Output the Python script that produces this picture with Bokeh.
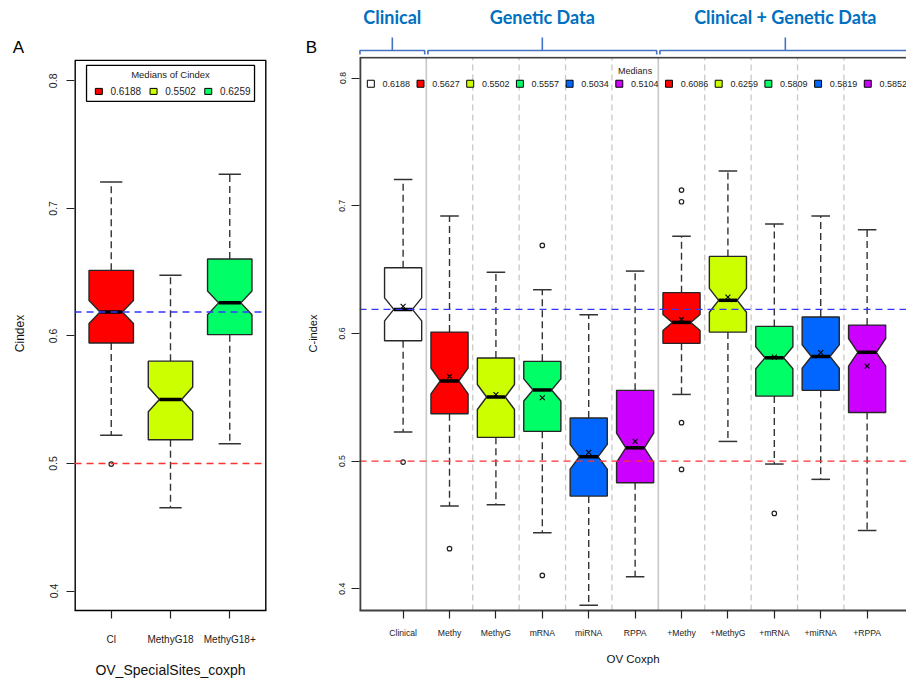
import numpy as np
from bokeh.plotting import figure
from bokeh.layouts import row, column
from bokeh.models import Range1d, FixedTicker, Span
from bokeh.core.properties import value
from bokeh.embed import file_html
from bokeh.resources import INLINE

# ---------------- Panel A: OV_SpecialSites_coxph ----------------
labels_a = ["Cl", "MethyG18", "MethyG18+"]
median_a = [0.6188, 0.5502, 0.6259]
q1_a = [0.5944, 0.5186, 0.6010]
q3_a = [0.6514, 0.5802, 0.6603]
lower_a = [0.5221, 0.4653, 0.5154]
upper_a = [0.7206, 0.6475, 0.7267]
outliers_a = [[0.4995], [], []]
colors_a = ["#FF0000", "#CCFF00", "#00FF66"]

# ---------------- Panel B: OV Coxph ----------------
labels_b = ["Clinical", "Methy", "MethyG", "mRNA", "miRNA", "RPPA",
            "+Methy", "+MethyG", "+mRNA", "+miRNA", "+RPPA"]
median_b = [0.6188, 0.5627, 0.5502, 0.5557, 0.5034, 0.5104,
            0.6086, 0.6259, 0.5809, 0.5819, 0.5852]
q1_b = [0.5943, 0.5371, 0.5186, 0.5233, 0.4726, 0.4831,
        0.5922, 0.6010, 0.5509, 0.5554, 0.5381]
q3_b = [0.6514, 0.6010, 0.5807, 0.5781, 0.5337, 0.5554,
        0.6319, 0.6603, 0.6055, 0.6128, 0.6065]
lower_b = [0.5227, 0.4648, 0.4659, 0.4439, 0.3872, 0.4095,
           0.5522, 0.5154, 0.4977, 0.4857, 0.4457]
upper_b = [0.7206, 0.6919, 0.6478, 0.6342, 0.6146, 0.6488,
           0.6760, 0.7271, 0.6856, 0.6919, 0.6812]
mean_b = [0.6211, 0.5663, 0.5520, 0.5496, 0.5068, 0.5154,
          0.6110, 0.6284, 0.5815, 0.5849, 0.5744]
outliers_b = [[0.4992], [0.4314], [], [0.6689, 0.4105], [], [],
              [0.7122, 0.7031, 0.5301, 0.4935], [], [0.4590], [], []]
colors_b = ["#FFFFFF", "#FF0000", "#CCFF00", "#00FF66", "#0066FF", "#CC00FF",
            "#FF0000", "#CCFF00", "#00FF66", "#0066FF", "#CC00FF"]

# column groups shown above panel B
groups_b = ["Clinical", "Genetic Data", "Clinical + Genetic Data"]
group_edges_b = [0.5, 1.5, 6.5, 11.5]

y_ticks = [0.4, 0.5, 0.6, 0.7, 0.8]
CLINICAL_MEDIAN = 0.6188
RANDOM_LEVEL = 0.5
N_RUNS = 100          # resampling runs behind each box (sets notch depth)

FONT = "Liberation Sans"
EDGE = "#262626"
YLO, YHI = 0.384, 0.816   # 0.4-0.8 with 4% padding

# page geometry (pixels)
STRIP_H = 56              # caption strip above both panels
FRAME_H = 554             # plot frames run from the strip down to the x axes
BOTTOM_H = 70


def draw_boxes(p, med, q1, q3, lo, hi, outs, cols, boxwex, means=None):
    n = len(med)
    xs_c = np.arange(1, n + 1, dtype=float)
    w = boxwex / 2.0
    med, q1, q3 = np.array(med), np.array(q1), np.array(q3)
    nn = 1.58 * (q3 - q1) / np.sqrt(N_RUNS)
    # dashed whiskers
    p.segment(x0=np.r_[xs_c, xs_c], y0=np.r_[q3, q1], x1=np.r_[xs_c, xs_c],
              y1=np.r_[hi, lo], line_color="#333333", line_width=1.4,
              line_dash="7 4")
    # whisker caps
    p.segment(x0=np.r_[xs_c, xs_c] - w / 2, y0=np.r_[hi, lo],
              x1=np.r_[xs_c, xs_c] + w / 2, y1=np.r_[hi, lo],
              line_color="#333333", line_width=1.5)
    # notched boxes
    fx = [-1, 1, 1, 0.5, 1, 1, -1, -1, -0.5, -1]
    bxs, bys = [], []
    for i in range(n):
        bxs.append([xs_c[i] + w * f for f in fx])
        bys.append([q1[i], q1[i], med[i] - nn[i], med[i], med[i] + nn[i],
                    q3[i], q3[i], med[i] + nn[i], med[i], med[i] - nn[i]])
    p.patches(bxs, bys, fill_color=cols, line_color=EDGE, line_width=1.4)
    # medians
    p.segment(x0=xs_c - w / 2, y0=med, x1=xs_c + w / 2, y1=med,
              line_color="black", line_width=3.5)
    # outliers
    ox = [xs_c[i] for i in range(n) for _ in outs[i]]
    oy = [v for i in range(n) for v in outs[i]]
    if ox:
        p.scatter(ox, oy, marker="circle", size=4.5, fill_color=None,
                  line_color="#222222", line_width=1.2)
    if means is not None:
        p.scatter(xs_c, means, marker="x", size=7, line_color="black",
                  line_width=1.1)


def style_axes(p, labels, tick_px, xlab_px, ylab_px):
    p.xaxis.ticker = FixedTicker(ticks=list(range(1, len(labels) + 1)))
    p.xaxis.major_label_overrides = {i + 1: s for i, s in enumerate(labels)}
    p.yaxis.ticker = FixedTicker(ticks=y_ticks)
    p.yaxis.major_label_overrides = {t: f"{t:.1f}" for t in y_ticks}
    p.yaxis.major_label_orientation = "vertical"
    for ax in (p.xaxis, p.yaxis):
        ax.minor_tick_line_color = None
        ax.major_tick_out = 8
        ax.major_tick_in = 0
        ax.major_tick_line_color = "#222222"
        ax.major_tick_line_width = 1.2
        ax.major_label_text_font = FONT
        ax.major_label_text_color = "#222222"
        ax.axis_label_text_font = FONT
        ax.axis_label_text_font_style = "normal"
        ax.axis_label_text_color = "#111111"
    p.yaxis.axis_line_color = None
    p.xaxis.major_label_text_font_size = tick_px
    p.yaxis.major_label_text_font_size = tick_px
    p.xaxis.axis_label_text_font_size = xlab_px
    p.yaxis.axis_label_text_font_size = ylab_px


# ======================= Panel A =======================
PPU_A = 551 / (YHI - YLO)                      # pixels per C-index unit
ya0 = 0.4 - (FRAME_H + STRIP_H - 590.5) / PPU_A
pa = figure(width=300, height=FRAME_H + BOTTOM_H, output_backend="svg",
            toolbar_location=None, title=None,
            x_range=Range1d(0.38, 3.62), y_range=Range1d(ya0, ya0 + FRAME_H / PPU_A),
            min_border_left=74, min_border_right=34, min_border_top=0,
            min_border_bottom=BOTTOM_H)
pa.grid.visible = False
pa.outline_line_color = None
style_axes(pa, labels_a, "10px", "14px", "12px")
pa.yaxis.major_label_text_font_size = "10.5px"
pa.xaxis.axis_line_color = "black"
pa.xaxis.axis_line_width = 1.4
pa.xaxis.axis_label = "OV_SpecialSites_coxph"
pa.yaxis.axis_label = "Cindex"
pa.xaxis.major_label_standoff = 15
pa.yaxis.major_label_standoff = 9
pa.xaxis.axis_label_standoff = 14
pa.yaxis.axis_label_standoff = 20

draw_boxes(pa, median_a, q1_a, q3_a, lower_a, upper_a, outliers_a, colors_a, 0.75)
pa.add_layout(Span(location=CLINICAL_MEDIAN, dimension="width", line_color="#3636ff",
                   line_dash="7 5", line_width=1.4))
pa.add_layout(Span(location=RANDOM_LEVEL, dimension="width", line_color="#ff3030",
                   line_dash="7 5", line_width=1.4))
# plot box (sides sit on the frame edge, so they are drawn twice as wide)
pa.segment(x0=[0.38, 3.62], y0=[ya0, ya0], x1=[0.38, 3.62], y1=[YHI, YHI],
           line_color="black", line_width=2.8)
pa.segment(x0=[0.38], y0=[YHI], x1=[3.62], y1=[YHI], line_color="black", line_width=1.4)

# legend of medians
pa.quad(left=[0.583], right=[3.418], bottom=[0.7839], top=[0.8121],
        fill_color="white", line_color="black", line_width=1.3)
pa.text(x=[2.0], y=[0.8052], text=["Medians of Cindex"], text_align="center",
        text_baseline="middle", text_font=value(FONT), text_font_size="9.5px",
        text_color="#222222")
leg_xa = 0.791 + 0.923 * np.arange(len(median_a))
pa.rect(x=leg_xa, y=[0.7917] * len(median_a), width=0.118, height=0.0047,
        fill_color=colors_a, line_color="black", line_width=1)
pa.text(x=leg_xa + 0.197, y=[0.7917] * len(median_a),
        text=[f"{m:.4f}" for m in median_a], text_align="left",
        text_baseline="middle", text_font=value(FONT), text_font_size="10px",
        text_color="#222222")

# ======================= Panel B =======================
PX_PER_COL = 46.4
LEFT_B = 59
FRAME_W_B = 606 - LEFT_B
PPU_B = 1277.0
xb0 = 0.5 - 0.04 * len(labels_b)
xb1 = len(labels_b) + 0.5 + 0.04 * len(labels_b)
yb0 = 0.4 - (FRAME_H + STRIP_H - 588.3) / PPU_B
yb1 = yb0 + FRAME_H / PPU_B
pb = figure(width=606, height=FRAME_H + BOTTOM_H, output_backend="svg",
            toolbar_location=None, title=None,
            x_range=Range1d(xb0, xb0 + FRAME_W_B / PX_PER_COL),
            y_range=Range1d(yb0, yb1),
            min_border_left=LEFT_B, min_border_right=0, min_border_top=0,
            min_border_bottom=BOTTOM_H)
pb.grid.visible = False
pb.outline_line_color = None
style_axes(pb, labels_b, "8.6px", "11.5px", "11px")
pb.xaxis.axis_line_color = "#404040"
pb.xaxis.axis_line_width = 1.8
pb.xaxis.axis_label = "OV Coxph"
pb.yaxis.axis_label = "C-index"
pb.xaxis.major_label_standoff = 9
pb.yaxis.major_label_standoff = 6
pb.xaxis.axis_label_standoff = 12
pb.yaxis.axis_label_standoff = 18

# column separators: solid between groups, dashed within
seps = np.arange(1.5, len(labels_b), 1.0)
solid = [s for s in seps if s in group_edges_b]
dashed = [s for s in seps if s not in group_edges_b]
pb.segment(x0=dashed, y0=yb0, x1=dashed, y1=YHI, line_color="#c8c8c8",
           line_width=1.3, line_dash="6 4")
pb.segment(x0=solid, y0=yb0, x1=solid, y1=YHI, line_color="#c8c8c8",
           line_width=1.6)

draw_boxes(pb, median_b, q1_b, q3_b, lower_b, upper_b, outliers_b, colors_b, 0.8,
           means=mean_b)
pb.segment(x0=[xb0], y0=[CLINICAL_MEDIAN], x1=[xb1], y1=[CLINICAL_MEDIAN],
           line_color="#3636ff", line_dash="7 5", line_width=1.4)
pb.segment(x0=[xb0], y0=[RANDOM_LEVEL], x1=[xb1], y1=[RANDOM_LEVEL],
           line_color="#ff3030", line_dash="7 5", line_width=1.4)

# plot box: left and top edges (bottom is the x axis line)
pb.segment(x0=[xb0], y0=[yb0], x1=[xb0], y1=[YHI], line_color="#404040", line_width=3.6)
pb.segment(x0=[xb0], y0=[YHI], x1=[xb1], y1=[YHI], line_color="#404040", line_width=1.8)

# legend of medians
leg_xb = 0.304 + 1.071 * np.arange(len(median_b))
pb.text(x=[(xb0 + xb1) / 2], y=[0.8057], text=["Medians"], text_align="center",
        text_baseline="middle", text_font=value(FONT), text_font_size="9px",
        text_color="#222222")
pb.rect(x=leg_xb, y=[0.7955] * len(median_b), width=0.15, height=0.0055,
        fill_color=colors_b, line_color="black", line_width=1)
pb.text(x=leg_xb + 0.252, y=[0.7955] * len(median_b),
        text=[f"{m:.4f}" for m in median_b], text_align="left",
        text_baseline="middle", text_font=value(FONT), text_font_size="9px",
        text_color="#222222")

# ============ caption strip: panel letters and group brackets ============
# shares panel B's column scale so the brackets line up with the columns
sx0 = xb0 - (300 + LEFT_B) / PX_PER_COL
strip = figure(width=906, height=STRIP_H, output_backend="svg", toolbar_location=None,
               title=None, x_axis_type=None, y_axis_type=None,
               x_range=Range1d(sx0, sx0 + 906 / PX_PER_COL),
               y_range=Range1d(yb1, yb1 + STRIP_H / PPU_B),
               min_border_left=0, min_border_right=0, min_border_top=0,
               min_border_bottom=0)
strip.grid.visible = False
strip.outline_line_color = None

y_h, y_hook, y_tip, y_cap, y_letter = 0.8215, 0.8184, 0.8317, 0.8478, 0.8238
gl = [xb0 + 0.01] + [e + 0.035 for e in group_edges_b[1:3]]
gr = [e - 0.035 for e in group_edges_b[1:3]] + [xb1]
mids = [(l + r) / 2 for l, r in zip(gl, gr)]
strip.multi_line([[l, l, r, r] for l, r in zip(gl, gr)],
                 [[y_hook, y_h, y_h, y_hook]] * 3,
                 line_color="#4472C4", line_width=1.6)
strip.segment(x0=mids, y0=y_h, x1=mids, y1=y_tip, line_color="#4472C4", line_width=1.6)
strip.text(x=mids, y=[y_cap] * 3, text=groups_b, text_align="center",
           text_baseline="middle", text_font=value("Lato"), text_font_style="bold",
           text_font_size="18px", text_color="#0070C0")
strip.text(x=[sx0 + 18 / PX_PER_COL, sx0 + 311 / PX_PER_COL], y=[y_letter] * 2,
           text=["A", "B"], text_align="center", text_baseline="middle",
           text_font=value(FONT), text_font_size="17px", text_color="black")

layout = column(strip, row(pa, pb))
open("out.html", "w").write(file_html(layout, INLINE))
